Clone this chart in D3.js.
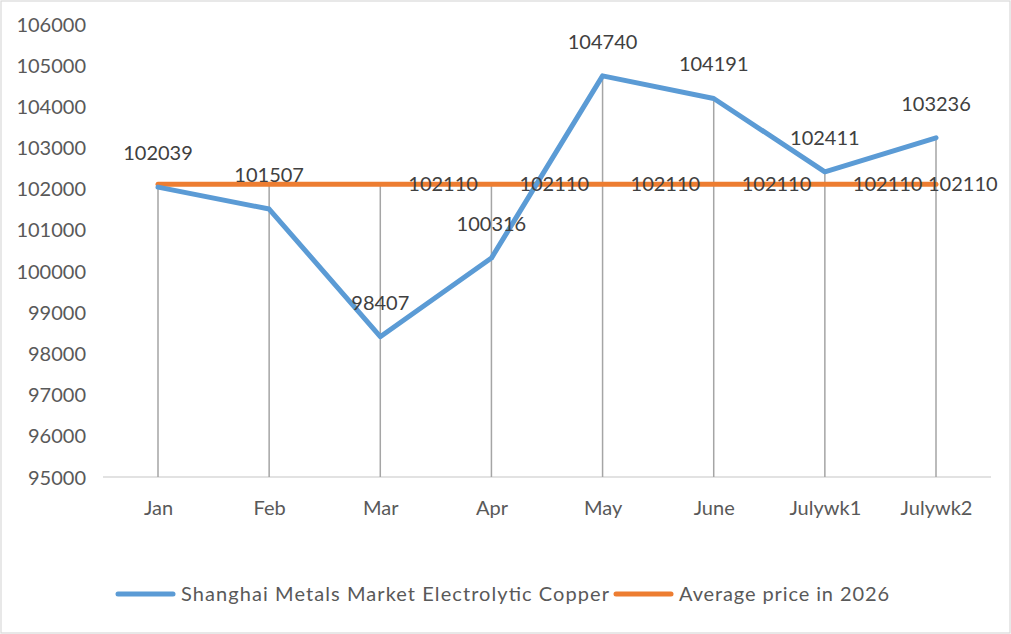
<!DOCTYPE html>
<html><head><meta charset="utf-8">
<script src="https://cdn.jsdelivr.net/npm/d3@7"></script>
<style>body{margin:0;background:#fff;} svg{display:block;}</style>
</head><body>
<svg id="c" width="1011" height="634"></svg>
<script>
const categories = ["Jan","Feb","Mar","Apr","May","June","Julywk1","Julywk2"];
const copperPrices = [102039,101507,98407,100316,104740,104191,102411,103236];
const averagePrices = [102110,102110,102110,102110,102110,102110,102110,102110];
const averageLabelShown = [false,false,true,true,true,true,true,true];
const yTicks = [95000,96000,97000,98000,99000,100000,101000,102000,103000,104000,105000,106000];
const seriesNames = ["Shanghai Metals Market Electrolytic Copper","Average price in 2026"];

const svg = d3.select("#c");
const W = 1011, H = 634;
const font = "Lato, 'Open Sans', sans-serif";
svg.append("rect").attr("x",1).attr("y",1).attr("width",W-2).attr("height",H-2)
  .attr("fill","#fff").attr("stroke","#d9d9d9").attr("stroke-width",1.2);

const x = d3.scalePoint().domain(categories).range([158,936]);
const y = d3.scaleLinear().domain([95000,106000]).range([477,24]);

// y axis labels
const yAxis = d3.axisLeft(y).tickValues(yTicks).tickSize(0).tickPadding(0).tickFormat(d3.format("d"));
const ga = svg.append("g").attr("transform","translate(86,0)").call(yAxis);
ga.select(".domain").remove();
ga.selectAll("text").attr("font-family",font).attr("font-size",20).attr("fill","#595959").attr("dy","0.35em");

// x axis
const xAxis = d3.axisBottom(x).tickSize(0).tickPadding(0);
const gx = svg.append("g").attr("transform","translate(0,477)").call(xAxis);
gx.select(".domain").remove();
gx.selectAll("text").attr("font-family",font).attr("font-size",20).attr("fill","#595959")
  .attr("y",31).attr("dy","0.35em");
svg.append("line").attr("x1",103).attr("x2",991).attr("y1",y(95000)).attr("y2",y(95000))
  .attr("stroke","#d9d9d9").attr("stroke-width",1.5);

// drop lines
svg.append("g").selectAll("line").data(categories).join("line")
  .attr("x1",d=>x(d)).attr("x2",d=>x(d))
  .attr("y1",(d,i)=>y(Math.max(copperPrices[i],averagePrices[i])))
  .attr("y2",y(95000)).attr("stroke","#a5a5a5").attr("stroke-width",1.5);

const line = d3.line().x((d,i)=>x(categories[i])).y(d=>y(d));
svg.append("path").datum(averagePrices).attr("d",line).attr("fill","none")
  .attr("stroke","#ed7d31").attr("stroke-width",5).attr("stroke-linecap","round").attr("stroke-linejoin","round");
svg.append("path").datum(copperPrices).attr("d",line).attr("fill","none")
  .attr("stroke","#5b9bd5").attr("stroke-width",5).attr("stroke-linecap","round").attr("stroke-linejoin","round");

// labels
svg.append("g").selectAll("text").data(copperPrices).join("text")
  .attr("x",(d,i)=>x(categories[i])).attr("y",d=>y(d)-34).attr("dy","0.35em")
  .attr("text-anchor","middle").attr("font-family",font).attr("font-size",20).attr("fill","#404040")
  .text(d=>d);
svg.append("g").selectAll("text").data(averagePrices.map((v,i)=>({v,i})).filter(o=>averageLabelShown[o.i])).join("text")
  .attr("x",o=>Math.min(x(categories[o.i])+28, 998-70)).attr("y",o=>y(o.v)).attr("dy","0.35em")
  .attr("font-family",font).attr("font-size",20).attr("fill","#404040")
  .text(o=>o.v);

// legend
const colors = ["#5b9bd5","#ed7d31"];
const lg = svg.append("g");
const lx = [118,616];
const lw = [428,210];
seriesNames.forEach((n,i)=>{
  lg.append("line").attr("x1",lx[i]).attr("x2",lx[i]+55).attr("y1",594).attr("y2",594)
    .attr("stroke",colors[i]).attr("stroke-width",5).attr("stroke-linecap","round");
  lg.append("text").attr("x",lx[i]+63).attr("y",594).attr("dy","0.35em")
    .attr("font-family",font).attr("font-size",20).attr("fill","#595959")
    .attr("textLength",lw[i]).attr("lengthAdjust","spacing").text(n);
});
</script>
</body></html>
